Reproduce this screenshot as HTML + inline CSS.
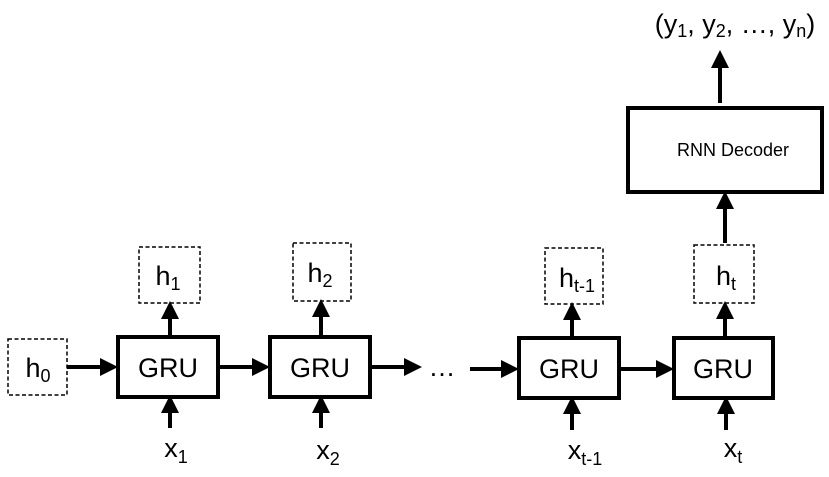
<!DOCTYPE html>
<html><head><meta charset="utf-8"><style>html,body{margin:0;padding:0;background:#fff}</style></head>
<body>
<svg width="829" height="472" viewBox="0 0 829 472" xmlns="http://www.w3.org/2000/svg" font-family="Liberation Sans, sans-serif" fill="#000">
<defs><marker id="a" markerWidth="4.5" markerHeight="4.5" refX="3.5" refY="2.25" orient="auto" markerUnits="strokeWidth"><path d="M0,0 L4.5,2.25 L0,4.5 z"/></marker></defs>
<g fill="none" stroke="#000" stroke-width="1.5" stroke-dasharray="4,2.5">
<rect x="8" y="339" width="59" height="56"/>
<rect x="139" y="247" width="61" height="56"/>
<rect x="293" y="243" width="58" height="58"/>
<rect x="545" y="248" width="58" height="56"/>
<rect x="694" y="245" width="60" height="58"/>
</g>
<g fill="none" stroke="#000" stroke-width="4">
<rect x="118" y="337" width="100" height="60"/>
<rect x="270" y="337" width="100" height="60"/>
<rect x="519" y="338" width="100" height="60"/>
<rect x="674" y="338" width="99" height="60"/>
<rect x="628" y="108" width="194" height="84"/>
</g>
<g stroke="#000" stroke-width="4" marker-end="url(#a)">
<line x1="67" y1="367" x2="114" y2="367"/>
<line x1="218" y1="367" x2="266" y2="367"/>
<line x1="370" y1="367" x2="418" y2="367"/>
<line x1="470" y1="369" x2="515" y2="369"/>
<line x1="619" y1="369" x2="670" y2="369"/>
<line x1="170" y1="335" x2="170" y2="305"/>
<line x1="321" y1="335" x2="321" y2="303"/>
<line x1="572" y1="336" x2="572" y2="306"/>
<line x1="725" y1="336" x2="725" y2="305"/>
<line x1="725" y1="243" x2="725" y2="195"/>
<line x1="720" y1="103" x2="720" y2="54"/>
<line x1="170" y1="428" x2="170" y2="399"/>
<line x1="321" y1="428" x2="321" y2="399"/>
<line x1="572" y1="430" x2="572" y2="400"/>
<line x1="726" y1="430" x2="726" y2="400"/>
</g>
<g font-size="27" text-anchor="middle">
<text x="168" y="377">GRU</text>
<text x="320" y="377">GRU</text>
<text x="569" y="378">GRU</text>
<text x="723" y="378">GRU</text>
<text x="442" y="376">…</text>
<text x="38" y="377">h<tspan font-size="18" dy="5">0</tspan></text>
<text x="168" y="285">h<tspan font-size="18" dy="5">1</tspan></text>
<text x="320" y="282">h<tspan font-size="18" dy="5">2</tspan></text>
<text x="577" y="287">h<tspan font-size="18" dy="5">t-1</tspan></text>
<text x="726" y="285">h<tspan font-size="18" dy="5">t</tspan></text>
<text x="176" y="457">x<tspan font-size="18" dy="6">1</tspan></text>
<text x="328" y="459">x<tspan font-size="18" dy="6">2</tspan></text>
<text x="585" y="459">x<tspan font-size="18" dy="6">t-1</tspan></text>
<text x="733" y="457">x<tspan font-size="18" dy="6">t</tspan></text>
<text x="735" y="33">(y<tspan font-size="18" dy="4">1</tspan><tspan dy="-4">, y</tspan><tspan font-size="18" dy="4">2</tspan><tspan dy="-4">, …, y</tspan><tspan font-size="18" dy="4">n</tspan><tspan dy="-4">)</tspan></text>
</g>
<text x="733" y="156" font-size="18" text-anchor="middle">RNN Decoder</text>
</svg>
</body></html>
